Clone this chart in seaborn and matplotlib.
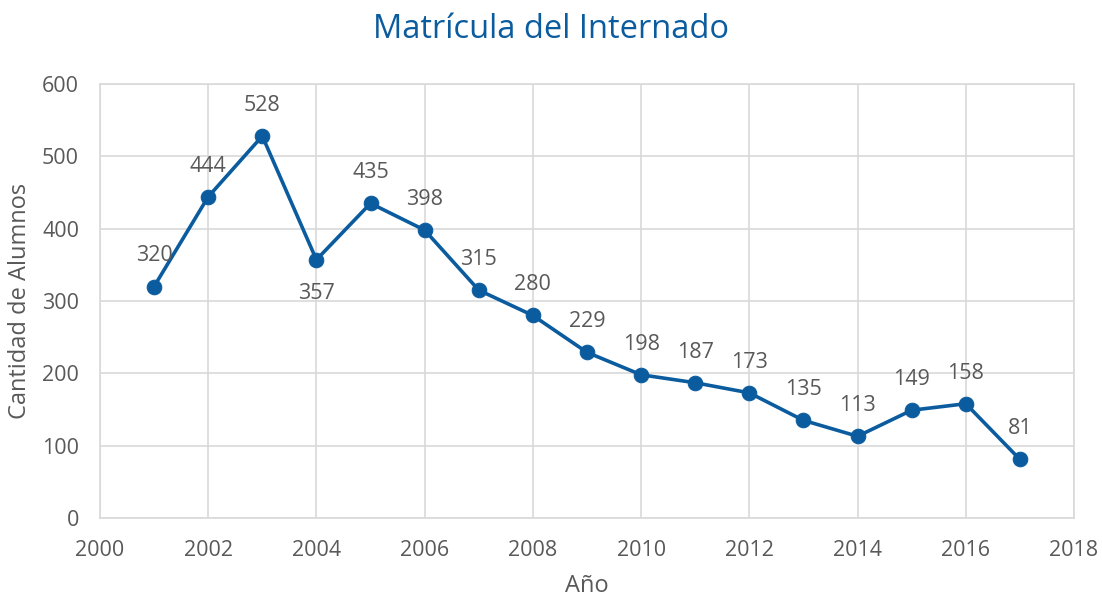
import matplotlib
matplotlib.use("Agg")
import matplotlib.pyplot as plt
import seaborn as sns
import pandas as pd

years = [2001, 2002, 2003, 2004, 2005, 2006, 2007, 2008, 2009, 2010, 2011, 2012, 2013, 2014, 2015, 2016, 2017]
alumnos = [320, 444, 528, 357, 435, 398, 315, 280, 229, 198, 187, 173, 135, 113, 149, 158, 81]
below_labels = [2004]

sns.set_theme(style="white")
plt.rcParams['font.family'] = ['Open Sans', 'DejaVu Sans']

TEXT = "#595959"
LINE = "#0B5C9E"
GRID = "#D9D9D9"

df = pd.DataFrame({"Año": years, "Alumnos": alumnos})

fig = plt.figure(figsize=(11.02, 5.99), dpi=100)
ax = fig.add_axes([0.0907, 0.1352, 0.9746 - 0.0907, 0.8598 - 0.1352])

sns.lineplot(data=df, x="Año", y="Alumnos", ax=ax, color=LINE, linewidth=2.6,
             marker="o", markersize=10.5, markeredgecolor=LINE, markerfacecolor=LINE)

for x, y in zip(years, alumnos):
    off = -24 if x in below_labels else 22
    ax.annotate(str(y), (x, y), xytext=(0, off), textcoords="offset points",
                ha="center", va="center", fontsize=15.5, color=TEXT)

ax.set_xlim(2000, 2018)
ax.set_ylim(0, 600)
ax.set_xticks(range(2000, 2019, 2))
ax.set_yticks(range(0, 601, 100))
ax.grid(True, color=GRID, linewidth=1.2)
ax.set_axisbelow(True)
for s in ax.spines.values():
    s.set_color(GRID)
    s.set_linewidth(1.2)
ax.tick_params(axis="both", length=0, labelsize=15.5, labelcolor=TEXT)
ax.tick_params(axis="y", pad=15)
ax.tick_params(axis="x", pad=16)
ax.set_xlabel("Año", fontsize=17, color=TEXT, labelpad=9)
ax.set_ylabel("Cantidad de Alumnos", fontsize=17, color=TEXT, labelpad=7)
fig.suptitle("Matrícula del Internado", fontsize=23.5, color="#0B5C9E", y=0.978)

fig.savefig("out.png", dpi=100)
